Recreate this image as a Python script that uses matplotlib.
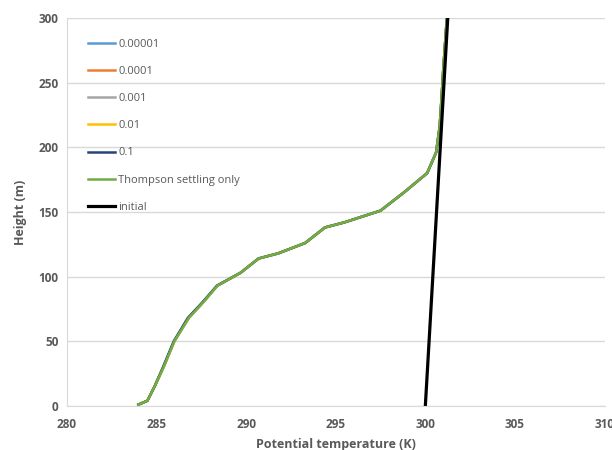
import matplotlib.pyplot as plt

plt.rcParams['font.family'] = ['Open Sans', 'DejaVu Sans']

# heights (m) for the model runs
height = [1, 4, 15, 30, 50, 68, 80, 93, 103, 114, 118, 126, 138, 142, 151, 165, 180, 196, 216, 237, 260, 300]
# potential temperature (K) for each run, they sit almost on top of each other
theta_1e5 = [284.0, 284.5, 284.9, 285.4, 286.0, 286.8, 287.6, 288.4, 289.7, 290.7, 291.8, 293.3, 294.4, 295.5, 297.5, 298.8, 300.1, 300.6, 300.8, 300.9, 301.0, 301.2]
theta_1e4 = [284.0, 284.5, 284.9, 285.4, 286.0, 286.8, 287.6, 288.4, 289.7, 290.7, 291.8, 293.3, 294.4, 295.5, 297.5, 298.8, 300.1, 300.6, 300.8, 300.9, 301.0, 301.2]
theta_1e3 = [284.0, 284.5, 284.9, 285.4, 286.0, 286.8, 287.6, 288.4, 289.7, 290.7, 291.8, 293.3, 294.4, 295.5, 297.5, 298.8, 300.1, 300.6, 300.8, 300.9, 301.0, 301.2]
theta_1e2 = [284.0, 284.5, 284.9, 285.4, 286.0, 286.8, 287.6, 288.4, 289.7, 290.7, 291.8, 293.3, 294.4, 295.5, 297.5, 298.8, 300.1, 300.6, 300.8, 300.9, 301.0, 301.2]
theta_1e1 = [284.0, 284.5, 284.9, 285.37, 285.97, 286.75, 287.56, 288.38, 289.7, 290.7, 291.8, 293.3, 294.4, 295.5, 297.5, 298.8, 300.1, 300.6, 300.8, 300.9, 301.0, 301.2]
theta_thompson = [284.0, 284.5, 284.9, 285.4, 286.0, 286.8, 287.6, 288.4, 289.7, 290.7, 291.8, 293.3, 294.4, 295.5, 297.5, 298.8, 300.1, 300.6, 300.8, 300.9, 301.0, 301.2]

# initial profile
height_init = [0, 300]
theta_init = [300.0, 301.25]

grey = '#595959'

fig = plt.figure(figsize=(6.12, 4.5), dpi=100)
ax = fig.add_axes([0.109, 0.098, 0.879, 0.862])

ax.plot(theta_1e5, height, color='#5b9bd5', lw=1.8, label='0.00001')
ax.plot(theta_1e4, height, color='#ed7d31', lw=1.8, label='0.0001')
ax.plot(theta_1e3, height, color='#a5a5a5', lw=1.8, label='0.001')
ax.plot(theta_1e2, height, color='#ffc000', lw=1.8, label='0.01')
ax.plot(theta_1e1, height, color='#264478', lw=1.8, label='0.1')
ax.plot(theta_thompson, height, color='#70ad47', lw=1.8, label='Thompson settling only')
ax.plot(theta_init, height_init, color='black', lw=2.3, label='initial')

ax.set_xlim(280, 310)
ax.set_ylim(0, 300)
ax.set_xticks(range(280, 311, 5))
ax.set_yticks(range(0, 301, 50))
ax.grid(axis='y', color='#d9d9d9', lw=1)
ax.set_axisbelow(True)
ax.tick_params(length=0, labelsize=8.5, labelcolor=grey)
ax.tick_params(axis='x', pad=9)
ax.tick_params(axis='y', pad=6)
for lab in ax.get_xticklabels() + ax.get_yticklabels():
    lab.set_fontweight('bold')

for s in ['top', 'right']:
    ax.spines[s].set_visible(False)
ax.spines['left'].set_color('#d9d9d9')
ax.spines['bottom'].set_color('#d9d9d9')

ax.set_xlabel('Potential temperature (K)', fontsize=9, fontweight='bold', color=grey, labelpad=5)
ax.set_ylabel('Height (m)', fontsize=9, fontweight='bold', color=grey, labelpad=8)

ax.legend(loc='upper left', bbox_to_anchor=(0.04, 0.946), frameon=False, fontsize=8,
          labelcolor=grey, handlelength=2.4, handletextpad=0.3, labelspacing=1.45,
          borderpad=0, borderaxespad=0)

fig.savefig('out.png', dpi=100)
